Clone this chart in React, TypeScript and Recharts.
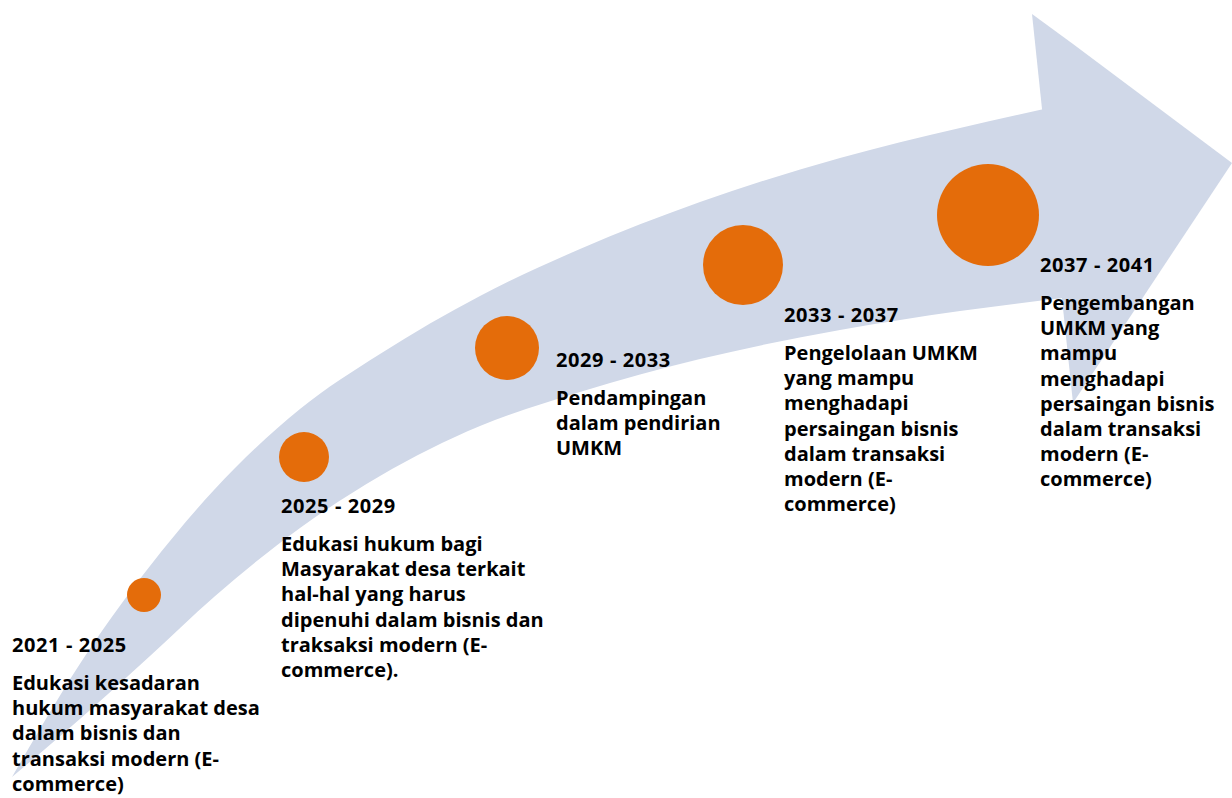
import { ComposedChart, Area, Scatter, XAxis, YAxis } from 'recharts';

// periods on the roadmap
const periods = ['2021 - 2025', '2025 - 2029', '2029 - 2033', '2033 - 2037', '2037 - 2041'];

const descriptions = [
  ['Edukasi kesadaran', 'hukum masyarakat desa', 'dalam bisnis dan', 'transaksi modern (E-', 'commerce)'],
  ['Edukasi hukum bagi', 'Masyarakat desa terkait', 'hal-hal yang harus', 'dipenuhi dalam bisnis dan', 'traksaksi modern (E-', 'commerce).'],
  ['Pendampingan', 'dalam pendirian', 'UMKM'],
  ['Pengelolaan UMKM', 'yang mampu', 'menghadapi', 'persaingan bisnis', 'dalam transaksi', 'modern (E-', 'commerce)'],
  ['Pengembangan', 'UMKM yang', 'mampu', 'menghadapi', 'persaingan bisnis', 'dalam transaksi', 'modern (E-', 'commerce)'],
];

// milestone dots (x, y in chart units, radius grows per stage)
const dotX = [144, 304, 507, 743, 988];
const dotY = [595, 457, 348, 265, 215];
const dotR = [17, 25, 32, 40, 51];

// label anchors
const labelX = [12, 281, 556, 784, 1040];
const labelY = [652, 513, 367, 322, 272];

// curved arrow body: lower / upper edge at each x
const bodyX = [12, 89, 150, 214, 300, 380, 480, 580, 700, 840, 960, 1063];
const bodyTop = [777, 650, 566, 490, 409, 354, 296, 249, 202, 158, 128, 105];
const bodyBottom = [777, 711, 656, 597, 528, 476, 426, 392, 359, 330, 311, 298];

// arrow head
const headX = [1032, 1073, 1232];
const headTop = [14, 44, 163];
const headBottom = [14, 403, 163];

const bodyData = bodyX.map((x, i) => ({ x, band: [bodyBottom[i], bodyTop[i]] }));
const headData = headX.map((x, i) => ({ x, band: [headBottom[i], headTop[i]] }));
const dotData = dotX.map((x, i) => ({ x, y: dotY[i], r: dotR[i] }));
const labelData = labelX.map((x, i) => ({ x, y: labelY[i], title: periods[i], lines: descriptions[i] }));

const FONT = '"Open Sans", sans-serif';

const Dot = (props: any) => (
  <circle cx={props.cx} cy={props.cy} r={props.payload.r} fill="#E46C0A" />
);

const Label = (props: any) => {
  const { cx, cy, payload } = props;
  return (
    <text x={cx} y={cy} fontFamily={FONT} fontWeight={700} fontSize={20} fill="#000">
      <tspan x={cx} y={cy} letterSpacing={0.6}>{payload.title}</tspan>
      {payload.lines.map((line: string, i: number) => (
        <tspan key={i} x={cx} y={cy + 38 + i * 25.2}>{line}</tspan>
      ))}
    </text>
  );
};

export default function App() {
  return (
    <div style={{ position: 'absolute', left: 0, top: 0, width: 1232, height: 798, background: '#fff' }}>
      <ComposedChart width={1232} height={798} margin={{ top: 0, right: 0, bottom: 0, left: 0 }}>
        <XAxis type="number" dataKey="x" domain={[0, 1232]} hide allowDataOverflow />
        <YAxis type="number" domain={[0, 798]} reversed hide allowDataOverflow />
        <Area
          data={bodyData}
          dataKey="band"
          type="monotone"
          stroke="none"
          fill="#D0D8E8"
          fillOpacity={1}
          isAnimationActive={false}
          activeDot={false}
        />
        <Area
          data={headData}
          dataKey="band"
          type="linear"
          stroke="none"
          fill="#D0D8E8"
          fillOpacity={1}
          isAnimationActive={false}
          activeDot={false}
        />
        <Scatter data={dotData} dataKey="y" shape={Dot} isAnimationActive={false} />
        <Scatter data={labelData} dataKey="y" shape={Label} isAnimationActive={false} />
      </ComposedChart>
    </div>
  );
}
